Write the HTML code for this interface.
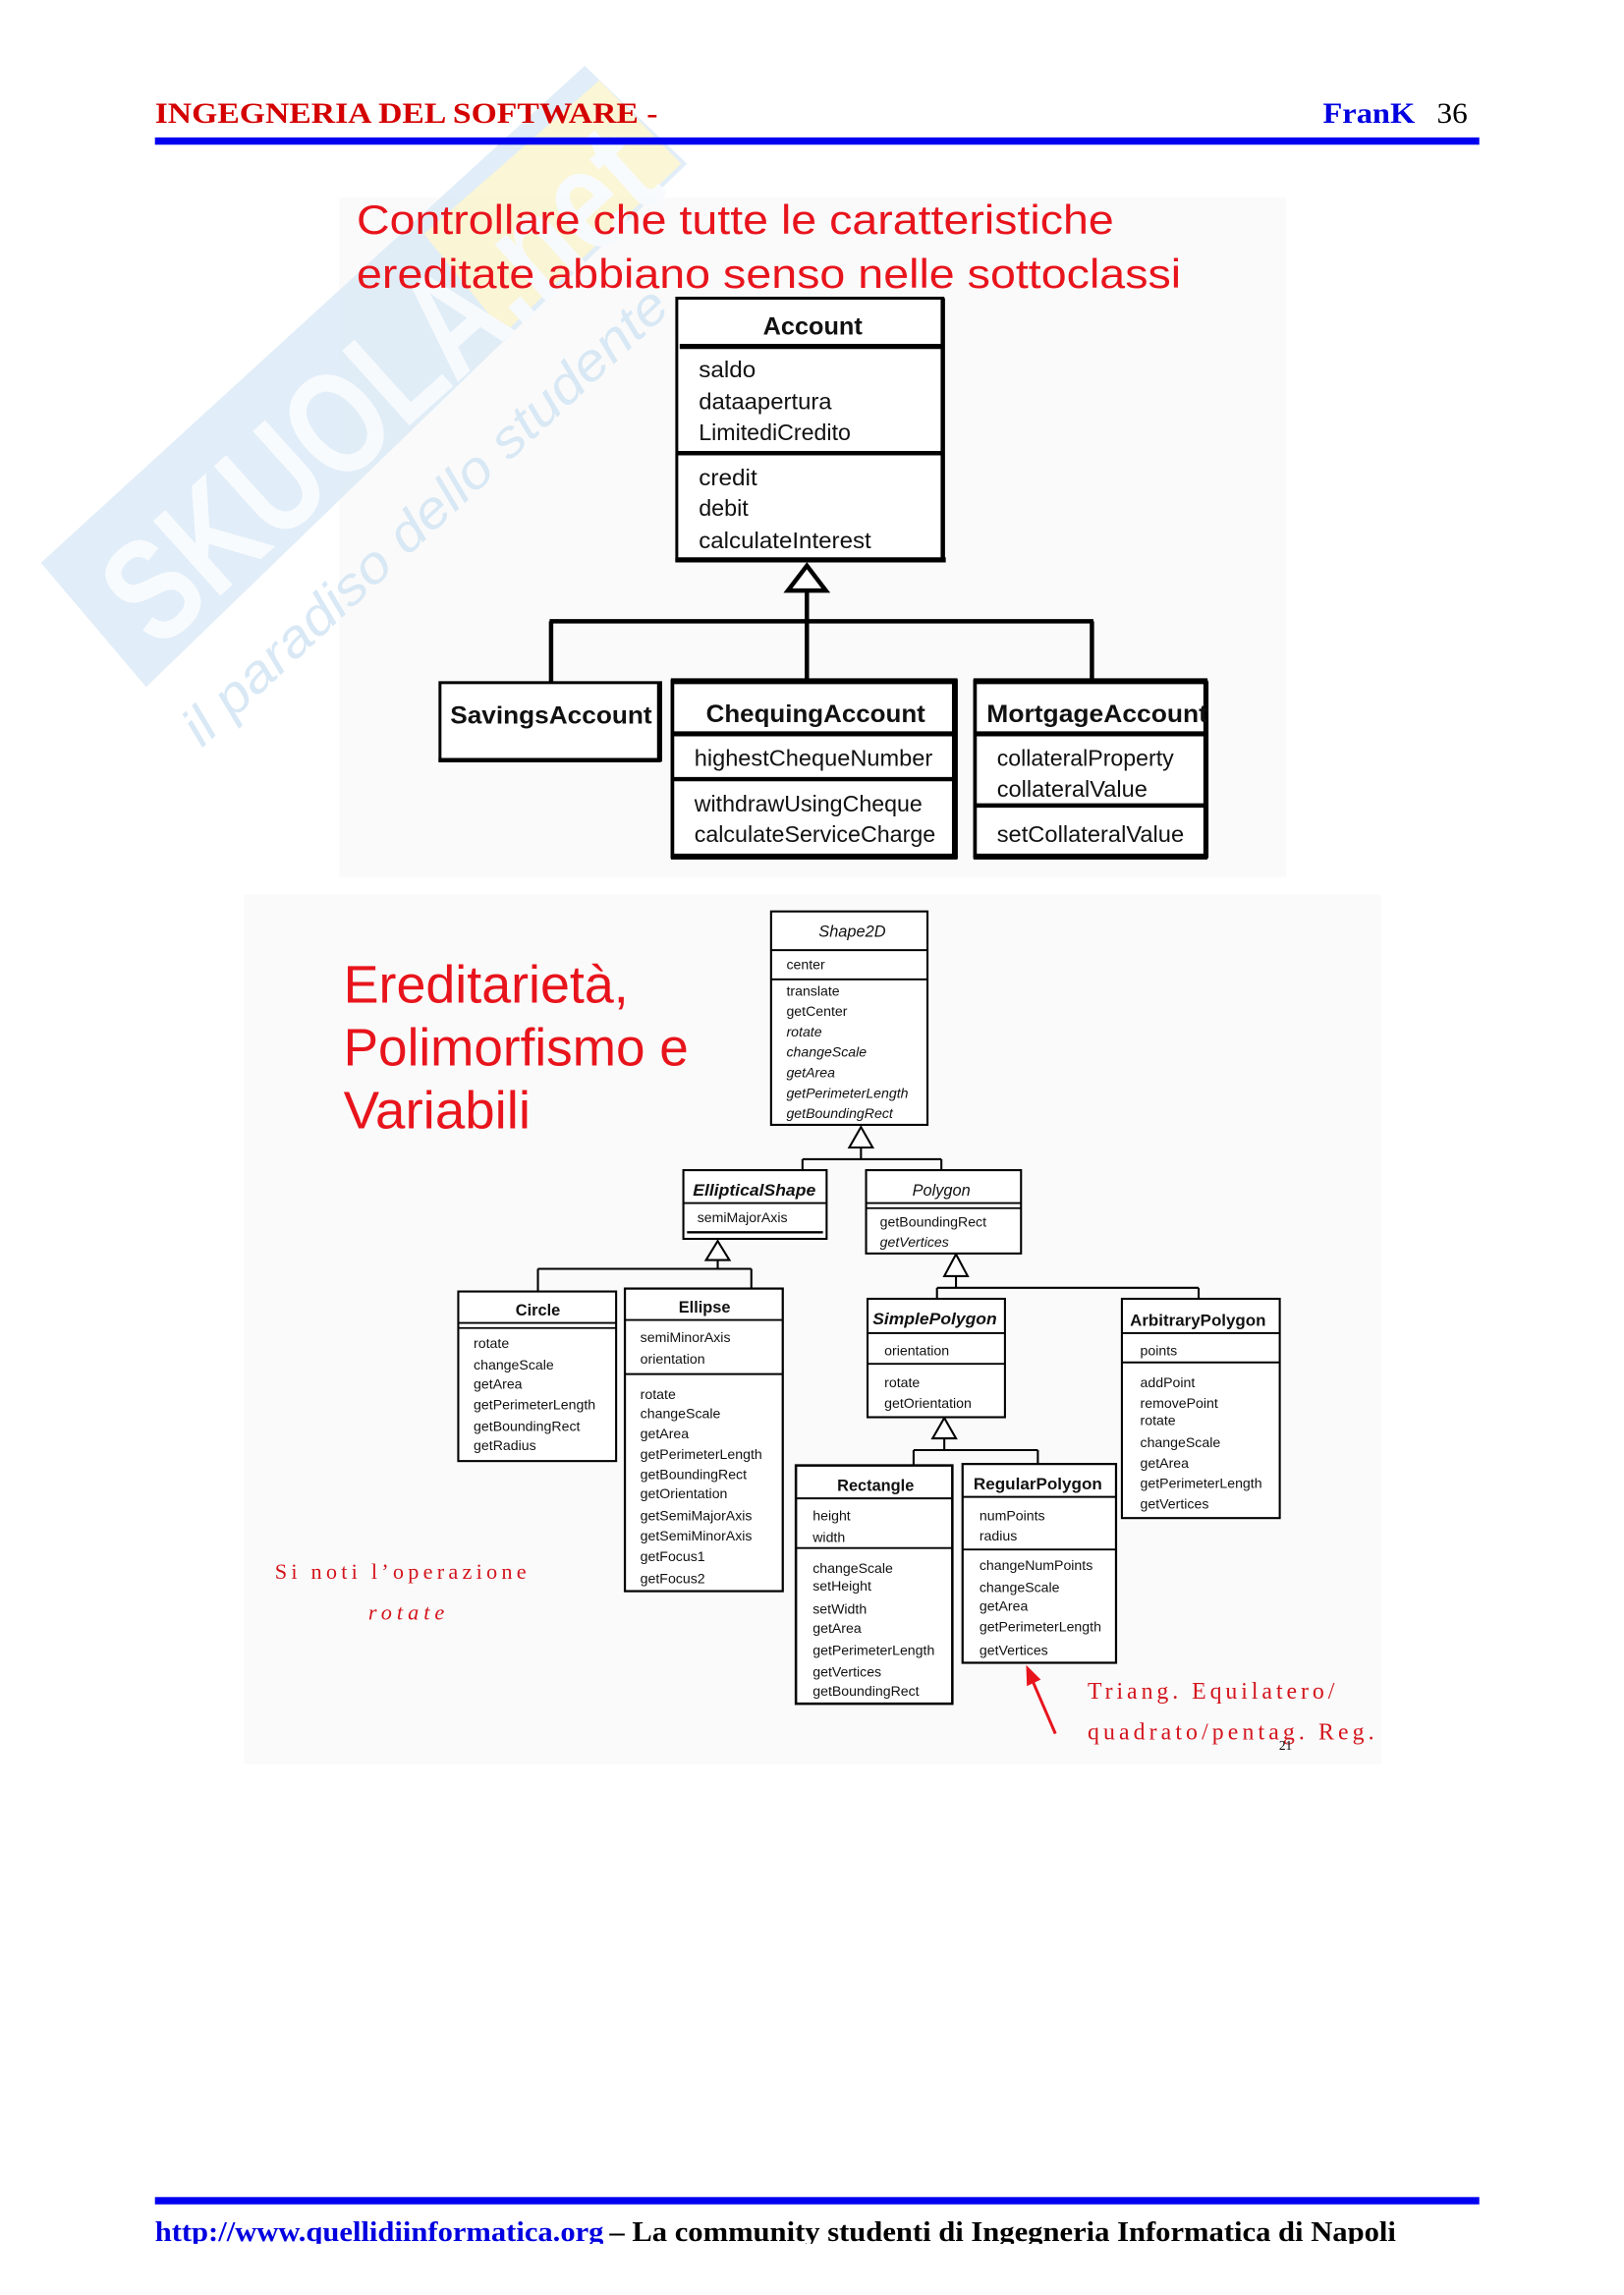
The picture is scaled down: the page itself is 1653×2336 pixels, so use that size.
<!DOCTYPE html>
<html><head><meta charset="utf-8">
<style>
html,body{margin:0;padding:0;background:#fff;}
svg{display:block;}
.s{font-family:"Liberation Sans",Arial,sans-serif;}
.t{font-family:"Liberation Serif","Times New Roman",serif;}
.m{font-family:"Liberation Sans",Arial,sans-serif;font-size:9.5px;fill:#111;}
.mi{font-style:italic;}
.ct{font-family:"Liberation Sans",Arial,sans-serif;font-size:11px;font-weight:bold;fill:#111;}
</style></head><body>
<svg width="1653" height="2336" viewBox="0 0 1111 1570" preserveAspectRatio="none" xmlns="http://www.w3.org/2000/svg">
<defs><clipPath id="pg"><rect x="0" y="0" width="1111" height="1535"/></clipPath></defs>
<rect x="0" y="0" width="1111" height="1570" fill="#fff"/>
<!-- slide backgrounds -->
<rect x="232" y="135" width="648" height="465" fill="#fafafa"/>
<rect x="167" y="612" width="778" height="595" fill="#fafafa"/>

<!-- watermark -->
<g opacity="0.85">
<polygon points="28,385 400,45 470,112 100,470" fill="#dcebf7"/>
<polygon points="290,160 410,55 466,112 345,228" fill="#fbf5cf"/>
<text class="s" x="0" y="0" transform="translate(108,446) rotate(-42)" font-size="100" font-weight="bold" fill="#f7fbfe" textLength="470" lengthAdjust="spacingAndGlyphs">SKUOLA.net</text>
<text class="s" x="0" y="0" transform="translate(138,512) rotate(-43)" font-size="36" font-style="italic" fill="#d3e5f4" textLength="440" lengthAdjust="spacingAndGlyphs">il paradiso dello studente</text>
</g>

<!-- header -->
<text class="t" x="106" y="84" font-size="20" font-weight="bold" fill="#d40000" textLength="344" lengthAdjust="spacingAndGlyphs">INGEGNERIA DEL SOFTWARE -</text>
<text class="t" x="905" y="84" font-size="20" font-weight="bold" fill="#0000e0" textLength="63" lengthAdjust="spacingAndGlyphs">FranK</text>
<text class="t" x="983" y="84" font-size="20" fill="#000" textLength="21" lengthAdjust="spacingAndGlyphs">36</text>
<rect x="106" y="94" width="906" height="5" fill="#0000f0"/>

<!-- diagram 1 title -->
<text class="s" x="244" y="160" font-size="28" fill="#e8141c" textLength="518" lengthAdjust="spacingAndGlyphs">Controllare che tutte le caratteristiche</text>
<text class="s" x="244" y="197" font-size="28" fill="#e8141c" textLength="564" lengthAdjust="spacingAndGlyphs">ereditate abbiano senso nelle sottoclassi</text>

<!-- Account -->
<rect x="463" y="204" width="182" height="179" fill="#fff" stroke="#000" stroke-width="2"/>
<line x1="645" y1="204" x2="645" y2="384" stroke="#000" stroke-width="3"/>
<line x1="462" y1="383" x2="647" y2="383" stroke="#000" stroke-width="3.5"/>
<line x1="465" y1="237" x2="645" y2="237" stroke="#000" stroke-width="3.5"/>
<line x1="463" y1="310" x2="645" y2="310" stroke="#000" stroke-width="3"/>
<g class="s" font-size="15.5" fill="#111">
<text x="556" y="229" font-size="17" font-weight="bold" text-anchor="middle">Account</text>
<text x="478" y="258" textLength="39" lengthAdjust="spacingAndGlyphs">saldo</text>
<text x="478" y="280" textLength="91" lengthAdjust="spacingAndGlyphs">dataapertura</text>
<text x="478" y="301" textLength="104" lengthAdjust="spacingAndGlyphs">LimitediCredito</text>
<text x="478" y="332" textLength="40" lengthAdjust="spacingAndGlyphs">credit</text>
<text x="478" y="353" textLength="34" lengthAdjust="spacingAndGlyphs">debit</text>
<text x="478" y="375" textLength="118" lengthAdjust="spacingAndGlyphs">calculateInterest</text>
</g>

<!-- inheritance connectors 1 -->
<g stroke="#000" stroke-width="3" fill="none">
<line x1="552" y1="404" x2="552" y2="467"/>
<line x1="376" y1="425" x2="748" y2="425"/>
<line x1="377" y1="425" x2="377" y2="467"/>
<line x1="747" y1="425" x2="747" y2="467"/>
</g>
<polygon points="552,387 539,404 565,404" fill="#fff" stroke="#000" stroke-width="3" stroke-linejoin="miter"/>

<!-- SavingsAccount -->
<rect x="301" y="467" width="151" height="53" fill="#fff" stroke="#000" stroke-width="2"/>
<line x1="451" y1="467" x2="451" y2="521" stroke="#000" stroke-width="3"/>
<line x1="300" y1="520" x2="452" y2="520" stroke="#000" stroke-width="3"/>
<text class="s" x="308" y="495" font-size="17" font-weight="bold" fill="#111" textLength="138" lengthAdjust="spacingAndGlyphs">SavingsAccount</text>

<!-- ChequingAccount -->
<rect x="460" y="466" width="194" height="120" fill="#fff" stroke="#000" stroke-width="2.5"/>
<line x1="459" y1="466" x2="655" y2="466" stroke="#000" stroke-width="4"/>
<line x1="459" y1="586" x2="655" y2="586" stroke="#000" stroke-width="4"/>
<line x1="653" y1="466" x2="653" y2="587" stroke="#000" stroke-width="3.5"/>
<line x1="461" y1="502" x2="653" y2="502" stroke="#000" stroke-width="3.5"/>
<line x1="461" y1="533" x2="653" y2="533" stroke="#000" stroke-width="3"/>
<g class="s" font-size="15.5" fill="#111">
<text x="483" y="494" font-size="17" font-weight="bold" textLength="150" lengthAdjust="spacingAndGlyphs">ChequingAccount</text>
<text x="475" y="524" textLength="163" lengthAdjust="spacingAndGlyphs">highestChequeNumber</text>
<text x="475" y="555" textLength="156" lengthAdjust="spacingAndGlyphs">withdrawUsingCheque</text>
<text x="475" y="576" textLength="165" lengthAdjust="spacingAndGlyphs">calculateServiceCharge</text>
</g>

<!-- MortgageAccount -->
<rect x="667" y="466" width="158" height="120" fill="#fff" stroke="#000" stroke-width="2.5"/>
<line x1="666" y1="466" x2="826" y2="466" stroke="#000" stroke-width="4"/>
<line x1="666" y1="586" x2="826" y2="586" stroke="#000" stroke-width="4"/>
<line x1="825" y1="466" x2="825" y2="587" stroke="#000" stroke-width="3.5"/>
<line x1="668" y1="502" x2="825" y2="502" stroke="#000" stroke-width="3.5"/>
<line x1="668" y1="551" x2="825" y2="551" stroke="#000" stroke-width="3"/>
<g class="s" font-size="15.5" fill="#111">
<text x="675" y="494" font-size="17" font-weight="bold" textLength="151" lengthAdjust="spacingAndGlyphs">MortgageAccount</text>
<text x="682" y="524" textLength="121" lengthAdjust="spacingAndGlyphs">collateralProperty</text>
<text x="682" y="545" textLength="103" lengthAdjust="spacingAndGlyphs">collateralValue</text>
<text x="682" y="576" textLength="128" lengthAdjust="spacingAndGlyphs">setCollateralValue</text>
</g>

<!-- diagram 2 title -->
<g class="s" font-size="36" fill="#e8141c">
<text x="235" y="686" textLength="195" lengthAdjust="spacingAndGlyphs">Ereditarietà,</text>
<text x="235" y="729" textLength="236" lengthAdjust="spacingAndGlyphs">Polimorfismo e</text>
<text x="235" y="772" textLength="128" lengthAdjust="spacingAndGlyphs">Variabili</text>
</g>

<!-- diagram 2 connectors -->
<g stroke="#000" stroke-width="1.4" fill="none">
<line x1="589" y1="785" x2="589" y2="793"/>
<line x1="549" y1="793" x2="644" y2="793"/>
<line x1="549" y1="793" x2="549" y2="800"/>
<line x1="644" y1="793" x2="644" y2="800"/>
<line x1="491" y1="862" x2="491" y2="868"/>
<line x1="368" y1="868" x2="514" y2="868"/>
<line x1="368" y1="868" x2="368" y2="883"/>
<line x1="514" y1="868" x2="514" y2="881"/>
<line x1="654" y1="873" x2="654" y2="881"/>
<line x1="641" y1="881" x2="820" y2="881"/>
<line x1="641" y1="881" x2="641" y2="888"/>
<line x1="820" y1="881" x2="820" y2="888"/>
<line x1="646" y1="984" x2="646" y2="992"/>
<line x1="625" y1="992" x2="710" y2="992"/>
<line x1="625" y1="992" x2="625" y2="1002"/>
<line x1="710" y1="992" x2="710" y2="1001"/>
</g>
<g fill="#fff" stroke="#000" stroke-width="1.4">
<polygon points="589,771 581,785 597,785"/>
<polygon points="491,849 483,862 499,862"/>
<polygon points="654,858 646,873 662,873"/>
<polygon points="646,970 638,984 654,984"/>
</g>

<!-- Shape2D -->
<rect x="527.5" y="623.5" width="107" height="146" fill="#fff" stroke="#000" stroke-width="1.4"/>
<line x1="527" y1="650" x2="635" y2="650" stroke="#000" stroke-width="1.3"/>
<line x1="527" y1="670" x2="635" y2="670" stroke="#000" stroke-width="1.3"/>
<text class="s" x="583" y="641" font-size="11" font-style="italic" fill="#111" text-anchor="middle">Shape2D</text>
<text class="m" x="538" y="663">center</text>
<text class="m" x="538" y="681">translate</text>
<text class="m" x="538" y="695">getCenter</text>
<text class="m mi" x="538" y="709">rotate</text>
<text class="m mi" x="538" y="723">changeScale</text>
<text class="m mi" x="538" y="737">getArea</text>
<text class="m mi" x="538" y="751">getPerimeterLength</text>
<text class="m mi" x="538" y="765">getBoundingRect</text>

<!-- EllipticalShape -->
<rect x="467.5" y="800.5" width="98" height="47" fill="#fff" stroke="#000" stroke-width="1.4"/>
<line x1="467" y1="823" x2="566" y2="823" stroke="#000" stroke-width="1.3"/>
<line x1="470" y1="843" x2="563" y2="843" stroke="#000" stroke-width="1.6"/>
<text class="ct" x="474" y="818" font-style="italic" textLength="84" lengthAdjust="spacingAndGlyphs">EllipticalShape</text>
<text class="m" x="477" y="836">semiMajorAxis</text>

<!-- Polygon -->
<rect x="592.5" y="800.5" width="106" height="57" fill="#fff" stroke="#000" stroke-width="1.4"/>
<line x1="592" y1="823" x2="699" y2="823" stroke="#000" stroke-width="1.3"/>
<line x1="592" y1="826.5" x2="699" y2="826.5" stroke="#000" stroke-width="1.1"/>
<text class="s" x="644" y="818" font-size="11" font-style="italic" fill="#111" text-anchor="middle">Polygon</text>
<text class="m" x="602" y="839">getBoundingRect</text>
<text class="m mi" x="602" y="853">getVertices</text>

<!-- Circle -->
<rect x="313.5" y="883.5" width="108" height="116" fill="#fff" stroke="#000" stroke-width="1.4"/>
<line x1="313" y1="905" x2="422" y2="905" stroke="#000" stroke-width="1.3"/>
<line x1="313" y1="908.5" x2="422" y2="908.5" stroke="#000" stroke-width="1.1"/>
<text class="ct" x="368" y="900" text-anchor="middle">Circle</text>
<text class="m" x="324" y="922">rotate</text>
<text class="m" x="324" y="937">changeScale</text>
<text class="m" x="324" y="950">getArea</text>
<text class="m" x="324" y="964">getPerimeterLength</text>
<text class="m" x="324" y="979">getBoundingRect</text>
<text class="m" x="324" y="992">getRadius</text>

<!-- Ellipse -->
<rect x="427.5" y="881.5" width="108" height="207" fill="#fff" stroke="#000" stroke-width="1.5"/>
<line x1="427" y1="903" x2="536" y2="903" stroke="#000" stroke-width="1.3"/>
<line x1="427" y1="940" x2="536" y2="940" stroke="#000" stroke-width="1.3"/>
<text class="ct" x="482" y="898" text-anchor="middle">Ellipse</text>
<text class="m" x="438" y="918">semiMinorAxis</text>
<text class="m" x="438" y="933">orientation</text>
<text class="m" x="438" y="957">rotate</text>
<text class="m" x="438" y="970">changeScale</text>
<text class="m" x="438" y="984">getArea</text>
<text class="m" x="438" y="998">getPerimeterLength</text>
<text class="m" x="438" y="1012">getBoundingRect</text>
<text class="m" x="438" y="1025">getOrientation</text>
<text class="m" x="438" y="1040">getSemiMajorAxis</text>
<text class="m" x="438" y="1054">getSemiMinorAxis</text>
<text class="m" x="438" y="1068">getFocus1</text>
<text class="m" x="438" y="1083">getFocus2</text>

<!-- SimplePolygon -->
<rect x="593.5" y="888.5" width="94" height="81" fill="#fff" stroke="#000" stroke-width="1.4"/>
<line x1="593" y1="912" x2="688" y2="912" stroke="#000" stroke-width="1.3"/>
<line x1="593" y1="933" x2="688" y2="933" stroke="#000" stroke-width="1.3"/>
<text class="ct" x="597" y="906" font-style="italic" textLength="85" lengthAdjust="spacingAndGlyphs">SimplePolygon</text>
<text class="m" x="605" y="927">orientation</text>
<text class="m" x="605" y="949">rotate</text>
<text class="m" x="605" y="963">getOrientation</text>

<!-- ArbitraryPolygon -->
<rect x="767.5" y="888.5" width="108" height="150" fill="#fff" stroke="#000" stroke-width="1.4"/>
<line x1="767" y1="912" x2="876" y2="912" stroke="#000" stroke-width="1.3"/>
<line x1="767" y1="932" x2="876" y2="932" stroke="#000" stroke-width="1.3"/>
<text class="ct" x="773" y="907" textLength="93" lengthAdjust="spacingAndGlyphs">ArbitraryPolygon</text>
<text class="m" x="780" y="927">points</text>
<text class="m" x="780" y="949">addPoint</text>
<text class="m" x="780" y="963">removePoint</text>
<text class="m" x="780" y="975">rotate</text>
<text class="m" x="780" y="990">changeScale</text>
<text class="m" x="780" y="1004">getArea</text>
<text class="m" x="780" y="1018">getPerimeterLength</text>
<text class="m" x="780" y="1032">getVertices</text>

<!-- Rectangle -->
<rect x="544.5" y="1002.5" width="107" height="163" fill="#fff" stroke="#000" stroke-width="1.7"/>
<line x1="544" y1="1025" x2="652" y2="1025" stroke="#000" stroke-width="1.3"/>
<line x1="544" y1="1059" x2="652" y2="1059" stroke="#000" stroke-width="1.3"/>
<text class="ct" x="599" y="1020" text-anchor="middle">Rectangle</text>
<text class="m" x="556" y="1040">height</text>
<text class="m" x="556" y="1055">width</text>
<text class="m" x="556" y="1076">changeScale</text>
<text class="m" x="556" y="1088">setHeight</text>
<text class="m" x="556" y="1104">setWidth</text>
<text class="m" x="556" y="1117">getArea</text>
<text class="m" x="556" y="1132">getPerimeterLength</text>
<text class="m" x="556" y="1147">getVertices</text>
<text class="m" x="556" y="1160">getBoundingRect</text>

<!-- RegularPolygon -->
<rect x="658.5" y="1001.5" width="105" height="136" fill="#fff" stroke="#000" stroke-width="1.5"/>
<line x1="658" y1="1024" x2="764" y2="1024" stroke="#000" stroke-width="1.3"/>
<line x1="658" y1="1060" x2="764" y2="1060" stroke="#000" stroke-width="1.3"/>
<text class="ct" x="666" y="1019" textLength="88" lengthAdjust="spacingAndGlyphs">RegularPolygon</text>
<text class="m" x="670" y="1040">numPoints</text>
<text class="m" x="670" y="1054">radius</text>
<text class="m" x="670" y="1074">changeNumPoints</text>
<text class="m" x="670" y="1089">changeScale</text>
<text class="m" x="670" y="1102">getArea</text>
<text class="m" x="670" y="1116">getPerimeterLength</text>
<text class="m" x="670" y="1132">getVertices</text>

<!-- red arrow -->
<line x1="722" y1="1186" x2="706" y2="1149" stroke="#e8141c" stroke-width="2"/>
<polygon points="702,1139 712,1149 702.5,1153.5" fill="#e8141c"/>

<!-- red notes -->
<g class="t" fill="#d4141c">
<text x="744" y="1162" font-size="16" textLength="169" lengthAdjust="spacing">Triang. Equilatero/</text>
<text x="744" y="1190" font-size="16" textLength="196" lengthAdjust="spacing">quadrato/pentag. Reg.</text>
<text x="188" y="1080" font-size="15" textLength="172" lengthAdjust="spacing">Si noti l’operazione</text>
<text x="252" y="1108" font-size="15" font-style="italic" textLength="52" lengthAdjust="spacing">rotate</text>
</g>
<text class="t" x="875" y="1197" font-size="9" fill="#000">21</text>

<!-- footer -->
<rect x="106" y="1503" width="906" height="5" fill="#0000f0"/>
<g clip-path="url(#pg)">
<text class="t" x="106" y="1533" font-size="19" font-weight="bold" fill="#0000e0" textLength="307" lengthAdjust="spacingAndGlyphs">http://www.quellidiinformatica.org</text>
<text class="t" x="417" y="1533" font-size="19" font-weight="bold" fill="#000" textLength="538" lengthAdjust="spacingAndGlyphs">– La community studenti di Ingegneria Informatica di Napoli</text>
</g>
</svg>
</body></html>
